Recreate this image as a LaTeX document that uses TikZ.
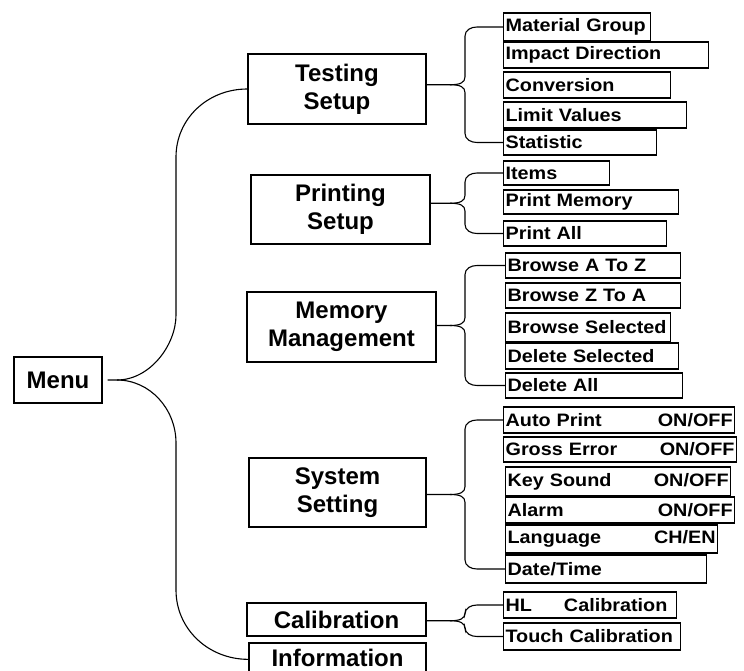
\documentclass[tikz,border=0pt]{standalone}
\usepackage{fontspec}
\newfontfamily\boxfont{Liberation Sans}
\newfontfamily\leaffont[FakeStretch=1.1]{Liberation Sans Bold}
\usetikzlibrary{calc}
\tikzset{
  mainbox/.style={draw, line width=1.3pt, inner sep=0pt, align=center,
    font=\boxfont\bfseries\fontsize{24}{28}\selectfont},
  leaf/.style={draw, line width=1.2pt, anchor=west, inner xsep=2pt, inner ysep=0pt,
    align=left, font=\leaffont\fontsize{18}{20}\selectfont},
  conn/.style={line width=1.1pt}
}
\newcommand\leafbrace[3]{%
  \path (#2.west) coordinate (bt) (#3.west) coordinate (bb);
  \coordinate (tm) at ($(bt)!0.5!(bb)$);
  \coordinate (T) at (tm -| tipx);
  \draw[conn] (#1.east |- T) -- (T) .. controls +(10,0) and +(0,6) .. ($(T)+(15,-8)$)
    -- ($(bt -| vx)+(0,9)$) .. controls +(0,-6) and +(-6,0) .. ($(bt -| vx)+(12,0)$) -- (bt);
  \draw[conn] (T) .. controls +(10,0) and +(0,-6) .. ($(T)+(15,8)$)
    -- ($(bb -| vx)+(0,-9)$) .. controls +(0,6) and +(-6,0) .. ($(bb -| vx)+(12,0)$) -- (bb);
}
\begin{document}
\begin{tikzpicture}[x=1pt, y=-1pt]
\useasboundingbox (0,0) rectangle (744,671);
\clip (0,0) rectangle (744,671);
\fill[white] (0,0) rectangle (744,671);
\coordinate (tipx) at (450,0);
\coordinate (vx) at (465,0);

% main boxes
\node[mainbox, minimum width=88pt, minimum height=46pt] (menu) at (58,380) {Menu};
\node[mainbox, minimum width=178pt, minimum height=70pt] (test) at (337,89) {Testing\\Setup};
\node[mainbox, minimum width=179pt, minimum height=69pt] (print) at (340.5,209.5) {Printing\\Setup};
\node[mainbox, minimum width=189pt, minimum height=70pt] (mem) at (341.5,327) {Memory\\Management};
\node[mainbox, minimum width=177pt, minimum height=69pt] (sys) at (337.5,492.5) {System\\Setting};
\node[mainbox, minimum width=179pt, minimum height=33pt] (cal) at (336.5,619.5) {Calibration};
\node[mainbox, minimum width=177pt, minimum height=29.5pt] (info) at (337.5,657.75) {Information};

% testing setup leaves
\node[leaf, text width=143pt, minimum height=28pt] (mg) at (503,27) {Material Group};
\node[leaf, text width=201pt, minimum height=26pt] (id) at (503,55) {Impact Direction};
\node[leaf, text width=163pt, minimum height=26pt] (cv) at (503,85) {Conversion};
\node[leaf, text width=179pt, minimum height=26pt] (lv) at (503,115) {Limit Values};
\node[leaf, text width=149pt, minimum height=25pt] (st) at (503,142.5) {Statistic};
% printing setup leaves
\node[leaf, text width=102pt, minimum height=24pt] (it) at (503,173) {Items};
\node[leaf, text width=171pt, minimum height=24pt] (pm) at (503,202) {Print Memory};
\node[leaf, text width=159pt, minimum height=25pt] (pa) at (503,233.5) {Print All};
% memory management leaves
\node[leaf, text width=171pt, minimum height=25pt] (baz) at (505,265.5) {Browse A To Z};
\node[leaf, text width=171pt, minimum height=25pt] (bza) at (505,295.5) {Browse Z To A};
\node[leaf, text width=161pt, minimum height=29pt] (bs) at (505,327.5) {Browse Selected};
\node[leaf, text width=169pt, minimum height=26pt] (ds) at (505,356) {Delete Selected};
\node[leaf, text width=173pt, minimum height=25pt] (da) at (505,385.5) {Delete All};
% system setting leaves
\node[leaf, text width=227pt, minimum height=26pt] (ap) at (503,420) {Auto Print\hfill ON/OFF};
\node[leaf, text width=229pt, minimum height=25pt] (ge) at (503,449.5) {Gross Error\hfill ON/OFF};
\node[leaf, text width=221pt, minimum height=29pt] (ks) at (505,481.5) {Key Sound\hfill ON/OFF};
\node[leaf, text width=225pt, minimum height=26pt] (al) at (505,510) {Alarm\hfill ON/OFF};
\node[leaf, text width=208pt, minimum height=28pt] (lg) at (505,539) {Language\hfill CH/EN};
\node[leaf, text width=197pt, minimum height=28pt] (dt) at (505,569) {Date/Time};
% calibration leaves
\node[leaf, text width=169pt, minimum height=26pt] (hl) at (503,605) {HL\hspace{32pt}Calibration};
\node[leaf, text width=173pt, minimum height=27pt] (tc) at (503,636.5) {Touch Calibration};

% braces to leaves
\leafbrace{test}{mg}{st}
\leafbrace{print}{it}{pa}
\leafbrace{mem}{baz}{da}
\leafbrace{sys}{ap}{dt}
\leafbrace{cal}{hl}{tc}

% big brace from Menu
\coordinate (J) at (117,380);
\draw[conn] ($(menu.east)+(5,0)$) -- (J)
  .. controls +(33,0) and +(0,30) .. (176,315) -- (176,157)
  .. controls +(0,-38) and +(-40,0) .. (test.west);
\draw[conn] (J) .. controls +(33,0) and +(0,-34) .. (176,443) -- (176,590)
  .. controls +(0,39) and +(-40,0) .. ($(info.north west)+(0,17)$);
\end{tikzpicture}
\end{document}
